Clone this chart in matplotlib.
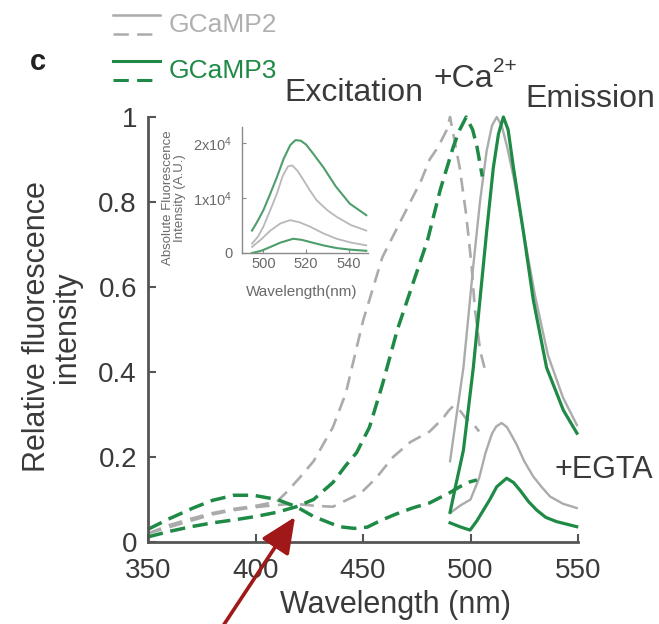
import matplotlib
matplotlib.use("Agg")
import matplotlib.pyplot as plt
from matplotlib.lines import Line2D

plt.rcParams['font.family'] = ['Liberation Sans', 'DejaVu Sans']
plt.rcParams['lines.scale_dashes'] = False
plt.rcParams['mathtext.fontset'] = 'custom'
plt.rcParams['mathtext.rm'] = 'Liberation Sans'
plt.rcParams['mathtext.it'] = 'Liberation Sans'

# ---------------- data ----------------
# Excitation spectra (dashed)
g2_ex_ca_wl = [350, 360, 370, 380, 390, 400, 410, 415, 421, 427, 436, 442, 450, 459, 466, 472, 477, 481, 485, 489, 490.5, 495, 498, 500.5, 502, 504.5, 506.5]
g2_ex_ca    = [0.02, 0.04, 0.055, 0.068, 0.078, 0.085, 0.095, 0.12, 0.154, 0.19, 0.27, 0.35, 0.52, 0.67, 0.74, 0.8, 0.85, 0.9, 0.93, 0.97, 1.0, 0.88, 0.77, 0.65, 0.55, 0.45, 0.41]

g2_ex_egta_wl = [350, 360, 370, 380, 390, 400, 410, 418, 428, 436, 449, 456, 464, 472, 481, 487, 490, 492, 495, 498, 501, 504]
g2_ex_egta    = [0.02, 0.035, 0.05, 0.065, 0.075, 0.082, 0.087, 0.09, 0.085, 0.083, 0.115, 0.15, 0.2, 0.235, 0.26, 0.29, 0.31, 0.32, 0.31, 0.29, 0.28, 0.26]

g3_ex_ca_wl = [350, 360, 370, 380, 390, 400, 410, 419, 427, 436, 442, 447, 453, 459, 466, 474, 480, 486, 492, 495, 498, 501, 503, 505.5]
g3_ex_ca    = [0.012, 0.025, 0.036, 0.045, 0.052, 0.06, 0.07, 0.083, 0.1, 0.14, 0.18, 0.21, 0.27, 0.37, 0.5, 0.62, 0.71, 0.83, 0.93, 0.97, 1.0, 0.97, 0.93, 0.86]

g3_ex_egta_wl = [350, 360, 371, 380, 390, 399, 410, 419, 427, 439, 446, 452, 458, 465, 473, 481, 486, 490, 495, 500, 503]
g3_ex_egta    = [0.03, 0.055, 0.08, 0.098, 0.11, 0.11, 0.1, 0.083, 0.06, 0.036, 0.032, 0.035, 0.05, 0.065, 0.08, 0.092, 0.105, 0.115, 0.13, 0.142, 0.146]

# Emission spectra (solid)
g2_em_ca_wl = [490.5, 493, 496.7, 501.3, 504.4, 507.5, 510, 512.2, 514.5, 517, 520, 525, 530, 536, 543, 549.5]
g2_em_ca    = [0.19, 0.28, 0.41, 0.65, 0.8, 0.92, 0.98, 1.0, 0.98, 0.93, 0.86, 0.72, 0.58, 0.44, 0.34, 0.275]

g2_em_egta_wl = [490.5, 495, 500, 504, 507, 510, 512, 514.5, 517, 521.4, 525, 529.2, 533, 537, 543, 549.4]
g2_em_egta    = [0.068, 0.085, 0.1, 0.15, 0.21, 0.255, 0.272, 0.28, 0.27, 0.23, 0.19, 0.154, 0.13, 0.107, 0.09, 0.08]

g3_em_ca_wl = [490.5, 493, 496.7, 501.3, 504.4, 507.5, 510.6, 513, 515.3, 517.5, 520, 524.6, 529.2, 535.4, 543.2, 549.5]
g3_em_ca    = [0.07, 0.13, 0.216, 0.41, 0.57, 0.73, 0.88, 0.96, 1.0, 0.97, 0.88, 0.73, 0.57, 0.41, 0.31, 0.256]

g3_em_egta_wl = [490.5, 495, 499.8, 503, 506, 509, 512.2, 516.8, 520, 523, 527, 530.8, 535, 540, 549.4]
g3_em_egta    = [0.045, 0.036, 0.028, 0.05, 0.075, 0.1, 0.13, 0.15, 0.14, 0.122, 0.095, 0.075, 0.058, 0.048, 0.036]

# Inset: absolute emission (A.U.)
in_g3_ca_wl = [494.7, 497, 500, 503, 506.4, 509.5, 512.6, 515, 517.5, 520, 523, 528, 534, 540.5, 548.2]
in_g3_ca    = [4100, 5600, 7800, 10600, 13900, 17200, 19700, 20600, 20500, 19800, 18300, 15700, 12100, 9000, 6900]
in_g2_ca_wl = [494.7, 497.5, 500, 503, 506.4, 509, 511.5, 513.5, 516, 518.8, 522, 525, 530, 534.3, 541, 548.2]
in_g2_ca    = [1700, 3000, 4800, 7600, 10900, 14000, 15800, 16000, 15000, 13300, 11300, 9600, 7800, 6600, 5100, 4100]
in_g2_egta_wl = [494.7, 499, 503.3, 508, 512.6, 517, 521.9, 528, 534.3, 541, 548.2]
in_g2_egta    = [1100, 2500, 4100, 5400, 6000, 5600, 4800, 3600, 2600, 1900, 1400]
in_g3_egta_wl = [494.7, 499, 503.3, 508, 514, 518, 521.9, 528, 534.3, 541, 548.2]
in_g3_egta    = [0, 400, 1100, 1900, 2600, 2400, 2000, 1400, 900, 600, 400]

x_ticks = [350, 400, 450, 500, 550]
y_ticks = [0, 0.2, 0.4, 0.6, 0.8, 1.0]
y_ticklabels = ['0', '0.2', '0.4', '0.6', '0.8', '1']
in_x_ticks = [500, 520, 540]
in_y_ticks = [0, 10000, 20000]
in_y_ticklabels = ['0', r'1x10$^4$', r'2x10$^4$']

# ---------------- styling ----------------
W, H = 659, 624
GREEN = '#1f8a45'
GRAY = '#ababab'
TXT = '#3a3a3a'
AX = '#555555'

def fx(px):
    return px / W

def fy(py):
    return 1 - py / H

fig = plt.figure(figsize=(W / 100, H / 100), dpi=100)
ax = fig.add_axes([fx(148), fy(542), (578 - 148) / W, (542 - 117) / H])

dash_gray = (0, (10, 6))
dash_green = (0, (11, 5.5))

ax.plot(g2_ex_ca_wl, g2_ex_ca, color=GRAY, lw=1.9, ls=dash_gray, clip_on=False)
ax.plot(g2_ex_egta_wl, g2_ex_egta, color=GRAY, lw=1.9, ls=dash_gray, clip_on=False)
ax.plot(g2_em_ca_wl, g2_em_ca, color=GRAY, lw=1.7, clip_on=False)
ax.plot(g2_em_egta_wl, g2_em_egta, color=GRAY, lw=1.7, clip_on=False)
ax.plot(g3_ex_ca_wl, g3_ex_ca, color=GREEN, lw=2.5, ls=dash_green, clip_on=False)
ax.plot(g3_ex_egta_wl, g3_ex_egta, color=GREEN, lw=2.5, ls=dash_green, clip_on=False)
ax.plot(g3_em_ca_wl, g3_em_ca, color=GREEN, lw=2.3, clip_on=False)
ax.plot(g3_em_egta_wl, g3_em_egta, color=GREEN, lw=2.3, clip_on=False)

ax.set_xlim(350, 550)
ax.set_ylim(0, 1.0)
ax.set_xticks(x_ticks)
ax.set_yticks(y_ticks)
ax.set_yticklabels(y_ticklabels)
for s in ['top', 'right']:
    ax.spines[s].set_visible(False)
for s in ['left', 'bottom']:
    ax.spines[s].set_color(AX)
    ax.spines[s].set_linewidth(2.0)
ax.tick_params(direction='in', length=6, width=1.5, color=AX, labelsize=20,
               labelcolor=TXT)
ax.tick_params(axis='y', pad=8)
ax.tick_params(axis='x', pad=11.5)

ax.set_xlabel('Wavelength (nm)', fontsize=22, color=TXT)
ax.xaxis.set_label_coords((396 - 148) / 430, -(605 - 542) / 425)
ax.xaxis.label.set_va('center')
ax.set_ylabel('Relative fluorescence\nintensity', fontsize=22, color=TXT,
              linespacing=1.0)
ax.yaxis.set_label_coords(-(148 - 52) / 430, (542 - 327) / 425)
ax.yaxis.label.set_va('center')

# annotations
fig.text(fx(354), fy(93), 'Excitation', fontsize=23, color=TXT, ha='center', va='center')
fig.text(fx(433), fy(79), '+Ca', fontsize=23, color=TXT, ha='left', va='center')
fig.text(fx(493), fy(66), '2+', fontsize=15, color=TXT, ha='left', va='center')
fig.text(fx(590), fy(99), 'Emission', fontsize=23, color=TXT, ha='center', va='center')
fig.text(fx(554), fy(470), '+EGTA', fontsize=22, color=TXT, ha='left', va='center')
fig.text(fx(38), fy(62), 'c', fontsize=21, fontweight='bold', color='#222222',
         ha='center', va='center')

# legend (manual)
fig.add_artist(Line2D([fx(113), fx(160)], [fy(15), fy(15)], color=GRAY, lw=1.8))
fig.add_artist(Line2D([fx(113), fx(160)], [fy(34), fy(34)], color=GRAY, lw=1.8,
                      ls=(0, (11, 6))))
fig.add_artist(Line2D([fx(113), fx(160)], [fy(61), fy(61)], color=GREEN, lw=2.2))
fig.add_artist(Line2D([fx(113), fx(160)], [fy(80), fy(80)], color=GREEN, lw=2.2,
                      ls=(0, (11, 6))))
fig.text(fx(169), fy(25), 'GCaMP2', fontsize=19, color='#b0b0b0', ha='left', va='center')
fig.text(fx(169), fy(71), 'GCaMP3', fontsize=19, color=GREEN, ha='left', va='center')

# red arrow pointing at isosbestic point
ax.annotate('', xy=(418.4, 0.059), xycoords='data',
            xytext=(fx(219), fy(632)), textcoords='figure fraction',
            arrowprops=dict(arrowstyle='-|>,head_length=1.0,head_width=0.45',
                            color='#a11818', lw=2.6, mutation_scale=22,
                            shrinkA=0, shrinkB=0),
            annotation_clip=False)

# inset
IG = '#4e9e6c'
IGR = '#b8b8b8'
ITX = '#6a6a6a'
ia = fig.add_axes([fx(242), fy(253), (368 - 242) / W, (253 - 127) / H])
ia.plot(in_g2_ca_wl, in_g2_ca, color=IGR, lw=1.3)
ia.plot(in_g2_egta_wl, in_g2_egta, color=IGR, lw=1.3)
ia.plot(in_g3_ca_wl, in_g3_ca, color=IG, lw=1.5)
ia.plot(in_g3_egta_wl, in_g3_egta, color=IG, lw=1.5)
ia.set_xlim(490, 549)
ia.set_ylim(0, 23000)
ia.set_xticks(in_x_ticks)
ia.set_yticks(in_y_ticks)
ia.set_yticklabels(in_y_ticklabels)
for s in ['top', 'right']:
    ia.spines[s].set_visible(False)
for s in ['left', 'bottom']:
    ia.spines[s].set_color('#8a8a8a')
    ia.spines[s].set_linewidth(1.0)
ia.tick_params(direction='in', length=3, width=0.8, color='#8a8a8a',
               labelsize=10.5, labelcolor=ITX)
ia.tick_params(axis='y', pad=7)
ia.tick_params(axis='x', pad=3)
ia.patch.set_alpha(0)
ia.set_xlabel('Wavelength(nm)', fontsize=11, color=ITX)
ia.xaxis.set_label_coords((302 - 242) / 126, -(292 - 253) / 126)
ia.xaxis.label.set_va('center')
ia.set_ylabel('Absolute Fluorescence\nIntensity (A.U.)', fontsize=9.5, color=ITX,
              linespacing=1.0)
ia.yaxis.set_label_coords((174 - 242) / 126, (253 - 198) / 126)
ia.yaxis.label.set_va('center')

fig.savefig('out.png', dpi=100)
